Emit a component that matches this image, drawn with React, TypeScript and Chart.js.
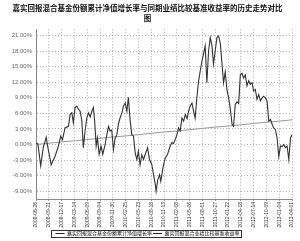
import React, { useEffect, useRef } from "react";
import { Chart, registerables } from "chart.js";

Chart.register(...registerables);

const titleLines = [
  "嘉实回报混合基金份额累计净值增长率与同期业绩比较基准收益率的历史走势对比",
  "图",
];

const xLabels = [
  "2008-06-26", "2008-09-21", "2008-12-17", "2009-03-14", "2009-06-09",
  "2009-09-04", "2009-11-30", "2010-02-25", "2010-05-23", "2010-08-18",
  "2010-11-13", "2011-02-08", "2011-05-06", "2011-08-01", "2011-10-27",
  "2012-01-22", "2012-04-18", "2012-07-14", "2012-10-09", "2013-01-04",
  "2013-04-01",
];

const yTicks = [-9, -6, -3, 0, 3, 6, 9, 12, 15, 18, 21];

const seriesNames = ["嘉实回报混合基金份额累计净值增长率", "嘉实回报混合业绩比较基准收益率"];

// trading-day index of each sample of the fund series
const fundDays = [
  0, 9, 22, 34, 48, 54, 71, 89, 105, 116, 124, 136, 152, 160, 168, 175, 183, 191, 199, 207,
  215, 222, 230, 238, 246, 254, 262, 269, 275, 282, 288, 296, 305, 313, 324, 332, 340, 347, 355, 363,
  371, 379, 386, 394, 402, 410, 418, 426, 433, 441, 449, 457, 465, 473, 480, 488, 496, 504, 517, 523,
  532, 543, 551, 559, 563, 570, 579, 585, 595, 606, 616, 629, 637, 645, 653, 661, 668, 676, 684, 692,
  700, 708, 715, 723, 731, 739, 746, 754, 762, 770, 778, 785, 793, 801, 809, 817, 825, 832, 840, 848,
  856, 864, 872, 879, 887, 895, 903, 911, 919, 926, 934, 942, 950, 958, 966, 973, 981, 989, 997, 1005,
  1013, 1020, 1028, 1036, 1044, 1052, 1060, 1067, 1075, 1083, 1091, 1099, 1107, 1114, 1122, 1130, 1138, 1146, 1154, 1161,
  1169, 1177, 1185, 1193, 1200,
];

const fundValues = [
  0.3, 0.1, -4.1, -0.6, 1.4, -0.2, -3.9, -2.3, -0.3, 1.6, 0.9, 3.2, 3.5, 5.8, 6.1, 4.2, 7.1, 7.4, 6.8, 6.4,
  4.5, -0.6, 2.6, 5.1, 6.1, 5.3, 6.4, 7.1, 4.5, -0.3, 1.3, -1.9, -0.3, -1.9, 0.0, 1.9, 3.5, 2.6, 2.8, -1.0,
  1.2, 1.9, 3.9, 5.1, 6.0, 7.4, 8.0, 6.4, 9.1, 4.8, 1.9, 1.6, -1.6, -2.9, -1.3, -3.9, -2.0, -2.9, -1.3, -0.6,
  -2.9, -3.9, -5.8, -7.7, -9.0, -6.9, -5.8, -7.1, -4.5, -2.6, -2.0, -0.3, 0.4, 0.2, 1.0, 1.9, 3.2, 2.6, 5.1, 4.5,
  5.8, 5.0, 6.4, 7.4, 8.0, 6.4, 5.1, 9.0, 12.2, 14.2, 16.1, 17.4, 19.0, 11.9, 18.0, 20.6, 19.0, 15.5, 18.0, 20.6,
  20.9, 19.5, 15.5, 11.9, 14.0, 10.5, 9.0, 6.8, 3.9, 3.5, 7.7, 8.2, 7.9, 13.5, 13.7, 12.8, 13.4, 11.3, 12.3, 11.6,
  11.9, 10.3, 10.6, 8.7, 9.6, 8.4, 9.0, 9.3, 9.0, 8.4, 4.5, 4.8, 3.9, 3.2, 2.9, 1.3, -2.3, -0.3, -0.4, 0.0,
  -0.6, -0.3, -2.9, 1.3, 1.9,
];

const benchDays = [
  0, 60, 120, 180, 240, 300, 360, 420, 480, 540, 600, 660, 720, 780, 840, 900, 960, 1020, 1080, 1140, 1200,
];
const benchValues = [
  0.0, 0.25, 0.5, 0.7, 0.95, 1.2, 1.45, 1.65, 1.9, 2.15, 2.4, 2.6, 2.85, 3.1, 3.35, 3.55, 3.8, 4.05, 4.3, 4.5, 4.75,
];

const legendBorder = {
  id: "legendBorder",
  afterDraw(chart: any) {
    const lg = chart.legend;
    if (!lg || !lg.legendHitBoxes || !lg.legendHitBoxes.length) return;
    const boxes = lg.legendHitBoxes;
    let l = Infinity, r = -Infinity, t = Infinity, b = -Infinity;
    boxes.forEach((h: any) => {
      l = Math.min(l, h.left);
      r = Math.max(r, h.left + h.width);
      t = Math.min(t, h.top);
      b = Math.max(b, h.top + h.height);
    });
    const ctx = chart.ctx;
    ctx.save();
    ctx.strokeStyle = "#333";
    ctx.lineWidth = 1;
    ctx.strokeRect(Math.round(l - 4) + 0.5, Math.round(t - 1) + 0.5, Math.round(r - l + 6), Math.round(b - t + 2));
    ctx.restore();
  },
};

export default function App() {
  const ref = useRef<HTMLCanvasElement>(null);
  useEffect(() => {
    if (!ref.current) return;
    const chart = new Chart(ref.current, {
      type: "line",
      data: {
        datasets: [
          {
            label: seriesNames[0],
            data: fundDays.map((d, i) => ({ x: d, y: fundValues[i] })),
            borderColor: "#333333",
            backgroundColor: "#333333",
            borderWidth: 1.1,
            pointRadius: 0,
            tension: 0,
          },
          {
            label: seriesNames[1],
            data: benchDays.map((d, i) => ({ x: d, y: benchValues[i] })),
            borderColor: "#999999",
            backgroundColor: "#999999",
            borderWidth: 1,
            pointRadius: 0,
            tension: 0,
          },
        ],
      },
      options: {
        responsive: false,
        animation: false,
        layout: { padding: { left: 3, right: 8, top: 0, bottom: -5 } },
        plugins: {
          title: {
            display: true,
            text: titleLines,
            color: "#111",
            font: { family: "'Noto Sans CJK SC'", size: 7.5, weight: "bold", lineHeight: 1.35 },
            padding: { top: 3, bottom: 6 },
          },
          legend: {
            position: "bottom",
            labels: {
              color: "#222",
              font: { family: "'Noto Sans CJK SC'", size: 5 },
              boxWidth: 9,
              boxHeight: 1,
              padding: 1,
              generateLabels(chart: any) {
                return chart.data.datasets.map((ds: any, i: number) => ({
                  text: ds.label,
                  fillStyle: "#222",
                  strokeStyle: "#222",
                  lineWidth: 0,
                  datasetIndex: i,
                  hidden: false,
                }));
              },
            },
          },
          tooltip: { enabled: false },
        },
        scales: {
          x: {
            type: "linear",
            min: 0,
            max: 1200,
            afterBuildTicks(scale: any) {
              scale.ticks = xLabels.map((_, i) => ({ value: benchDays[i] }));
            },
            afterFit(scale: any) {
              scale.height = 31;
            },
            ticks: {
              autoSkip: false,
              maxRotation: 90,
              minRotation: 90,
              padding: 1,
              color: "#333",
              font: { family: "'Liberation Sans'", size: 5 },
              callback: (v: any) => xLabels[benchDays.indexOf(Number(v))] ?? "",
            },
            grid: {
              color: "#999999",
              lineWidth: 0.8,
              tickLength: 2,
              tickColor: "#888",
              drawTicks: true,
            },
            border: { display: true, color: "#888", width: 1, dash: [1, 2] } as any,
          },
          y: {
            min: -10.5,
            max: 22.2,
            afterBuildTicks(scale: any) {
              scale.ticks = yTicks.map((v) => ({ value: v }));
            },
            afterFit(scale: any) {
              scale.width = 33;
            },
            ticks: {
              color: "#666",
              padding: 4,
              font: { family: "'Liberation Sans'", size: 6 },
              callback: (v: any) => Number(v).toFixed(2) + "%",
            },
            grid: { color: "#999999", lineWidth: 0.8, drawTicks: false },
            border: { display: true, color: "#888", width: 1, dash: [1, 2] } as any,
          },
        },
      },
      plugins: [legendBorder],
    } as any);
    return () => chart.destroy();
  }, []);
  return (
    <div style={{ position: "fixed", left: 0, top: 0, width: 300, height: 241, background: "#fff" }}>
      <canvas ref={ref} width={300} height={241} style={{ width: 300, height: 241 }} />
    </div>
  );
}
